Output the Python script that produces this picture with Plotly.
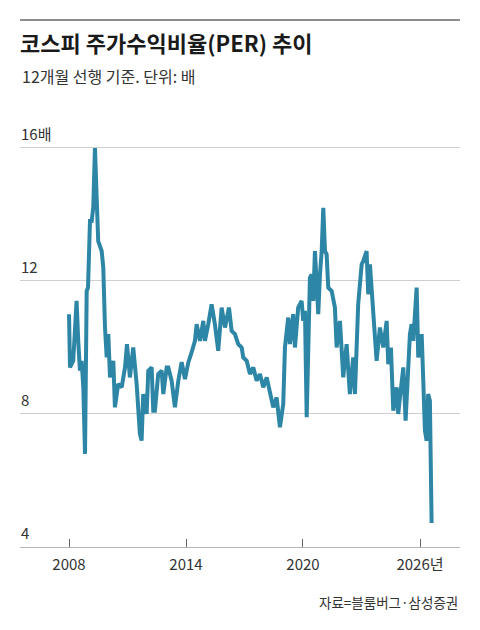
import plotly.graph_objects as go

# 코스피 12개월 선행 PER (배), 그림에서 읽은 값
dates = [
    "2008-01-01", "2008-01-20", "2008-03-20", "2008-05-22", "2008-06-22", "2008-07-24",
    "2008-08-25", "2008-09-25", "2008-10-27", "2008-11-27", "2008-12-22", "2009-01-10",
    "2009-01-28", "2009-03-01", "2009-03-30", "2009-05-01", "2009-06-02", "2009-06-20",
    "2009-07-01", "2009-09-04", "2009-10-04", "2009-11-05", "2009-12-07", "2010-01-06",
    "2010-02-07", "2010-04-10", "2010-05-10", "2010-07-10", "2010-09-13", "2010-11-15",
    "2010-12-22", "2011-02-15", "2011-04-18", "2011-06-21", "2011-08-21", "2011-09-22",
    "2011-10-22", "2011-12-25", "2012-01-25", "2012-03-28", "2012-04-27", "2012-05-28",
    "2012-07-29", "2012-10-02", "2012-11-01", "2013-01-04", "2013-02-03", "2013-04-06",
    "2013-06-07", "2013-08-09", "2013-10-11", "2013-12-12", "2014-02-13", "2014-04-15",
    "2014-06-17", "2014-07-19", "2014-09-19", "2014-11-20", "2014-12-21", "2015-02-22",
    "2015-04-25", "2015-06-26", "2015-08-27", "2015-10-30", "2016-01-01", "2016-03-15",
    "2016-05-04", "2016-07-05", "2016-09-05", "2016-11-08", "2016-12-08", "2017-02-10",
    "2017-04-13", "2017-06-14", "2017-08-16", "2017-10-17", "2017-12-18", "2018-02-20",
    "2018-04-22", "2018-06-23", "2018-08-25", "2018-10-26", "2018-12-27", "2019-01-28",
    "2019-03-30", "2019-05-01", "2019-07-01", "2019-08-03", "2019-10-03", "2019-12-06",
    "2020-01-06", "2020-02-07", "2020-03-10", "2020-04-09", "2020-05-10", "2020-06-11",
    "2020-07-11", "2020-08-12", "2020-09-13", "2020-10-13", "2020-11-14", "2020-12-16",
    "2021-01-15", "2021-02-16", "2021-03-19", "2021-04-18", "2021-06-21", "2021-08-21",
    "2021-09-22", "2021-11-23", "2022-01-24", "2022-03-28", "2022-05-28", "2022-07-29",
    "2022-08-31", "2022-10-31", "2023-01-04", "2023-02-03", "2023-04-06", "2023-05-07",
    "2023-06-08", "2023-08-09", "2023-10-11", "2023-12-12", "2024-02-13", "2024-04-16",
    "2024-05-16", "2024-07-05", "2024-08-18", "2024-10-20", "2024-11-19", "2024-12-21",
    "2025-02-22", "2025-04-06", "2025-05-25", "2025-06-26", "2025-07-28", "2025-08-27",
    "2025-09-28", "2025-10-30", "2025-11-29", "2026-02-01", "2026-03-03", "2026-04-03",
    "2026-05-04", "2026-06-03", "2026-07-05", "2026-08-06",
]
per = [
    11.0, 9.4, 9.6, 11.4, 10.2, 9.3,
    9.6, 8.8, 6.8, 11.7, 11.8, 12.9,
    13.8, 13.8, 14.2, 16.0, 14.7, 14.2,
    13.2, 12.9, 12.4, 10.6, 9.7, 10.4,
    9.1, 9.6, 8.2, 8.9, 8.8, 9.4,
    10.1, 9.1, 10.0, 8.9, 7.4, 7.2,
    8.6, 8.0, 9.3, 9.4, 8.1, 8.1,
    9.2, 9.3, 8.6, 9.4, 9.4, 9.0,
    8.2, 9.0, 9.56, 9.05, 9.55, 9.85,
    10.2, 10.7, 10.2, 10.8, 10.2, 10.7,
    11.3, 10.7, 9.9, 11.2, 10.6, 11.2,
    10.5, 10.4, 10.1, 10.0, 9.7, 9.6,
    9.2, 9.4, 9.0, 9.2, 8.8, 9.1,
    8.7, 8.2, 8.5, 7.6, 8.3, 10.0,
    10.9, 10.1, 11.0, 10.0, 11.2, 11.4,
    10.8, 11.1, 7.9, 10.2, 12.1, 12.2,
    11.4, 12.9, 11.7, 11.0, 12.2, 12.9,
    14.2, 12.9, 12.8, 11.8, 11.7, 11.2,
    10.0, 10.8, 9.1, 10.1, 8.6, 9.7,
    8.6, 11.3, 12.5, 12.6, 12.9, 11.6,
    12.5, 10.9, 9.6, 10.6, 10.0, 10.8,
    9.5, 10.0, 8.1, 8.8, 8.0, 8.5,
    9.4, 7.8, 9.1, 10.4, 10.7, 10.2,
    11.0, 11.8, 9.7, 10.4, 9.0, 7.5,
    7.2, 8.6, 8.4, 4.72,
]

y_ticks = [4, 8, 12, 16]
y_labels = ["4", "8", "12", "16배"]
x_ticks = ["2008-01-01", "2014-01-01", "2020-01-01", "2026-01-01"]
x_labels = ["2008", "2014", "2020", "2026년"]

title = "코스피 주가수익비율(PER) 추이"
subtitle = "12개월 선행 기준. 단위: 배"
source = "자료=블룸버그·삼성증권"

FONT = "Noto Sans CJK KR"

fig = go.Figure()
fig.add_trace(go.Scatter(
    x=dates, y=per, mode="lines",
    line=dict(color="#2e86a6", width=4),
    hoverinfo="x+y", showlegend=False,
))

fig.update_layout(
    width=480, height=630,
    margin=dict(l=20, r=20, t=130, b=83),
    paper_bgcolor="white", plot_bgcolor="white",
    font=dict(family=FONT, size=15, color="#333333"),
    title=dict(
        text=f"<b>{title}</b>",
        x=20 / 480, xanchor="left",
        y=1 - 44 / 630, yanchor="middle",
        font=dict(family=FONT, size=22, color="#1a1a1a"),
    ),
)

# 부제, 출처
fig.add_annotation(
    text=subtitle, xref="paper", yref="paper",
    x=0, y=(547 - 76) / 417, xanchor="left", yanchor="middle",
    showarrow=False, font=dict(family=FONT, size=16, color="#333333"),
)
fig.add_annotation(
    text=source, xref="paper", yref="paper",
    x=1, y=(547 - 602) / 417, xanchor="right", yanchor="middle",
    showarrow=False, font=dict(family=FONT, size=13.5, color="#333333"),
)

# y축 눈금 글자는 격자선 위에
for v, lab in zip(y_ticks, y_labels):
    fig.add_annotation(
        text=lab, xref="paper", yref="y",
        x=0, y=v, xanchor="left", yanchor="bottom", yshift=3,
        showarrow=False, borderpad=0,
        font=dict(family=FONT, size=15, color="#333333"),
    )

# 맨 위 구분선
fig.add_shape(
    type="line", xref="paper", yref="paper",
    x0=0, x1=1, y0=(547 - 20) / 417, y1=(547 - 20) / 417,
    line=dict(color="#8c8c8c", width=2),
)

fig.update_xaxes(
    type="date",
    range=["2005-06-27", "2028-01-20"],
    tickvals=x_ticks, ticktext=x_labels,
    showgrid=False, zeroline=False,
    showline=True, linecolor="#b5b5b5", linewidth=1,
    ticks="inside", ticklen=8, tickcolor="#666666", tickwidth=1,
    ticklabelstandoff=4,
    tickfont=dict(family=FONT, size=15, color="#333333"),
)
fig.update_yaxes(
    range=[4, 16.54],
    tickvals=y_ticks, showticklabels=False,
    showgrid=True, gridcolor="#cfcfcf", gridwidth=1,
    zeroline=False, showline=False, ticks="",
)

fig.write_html(
    "out.html",
    config={"displayModeBar": False},
    post_script="document.body.style.margin='0px';",
)
